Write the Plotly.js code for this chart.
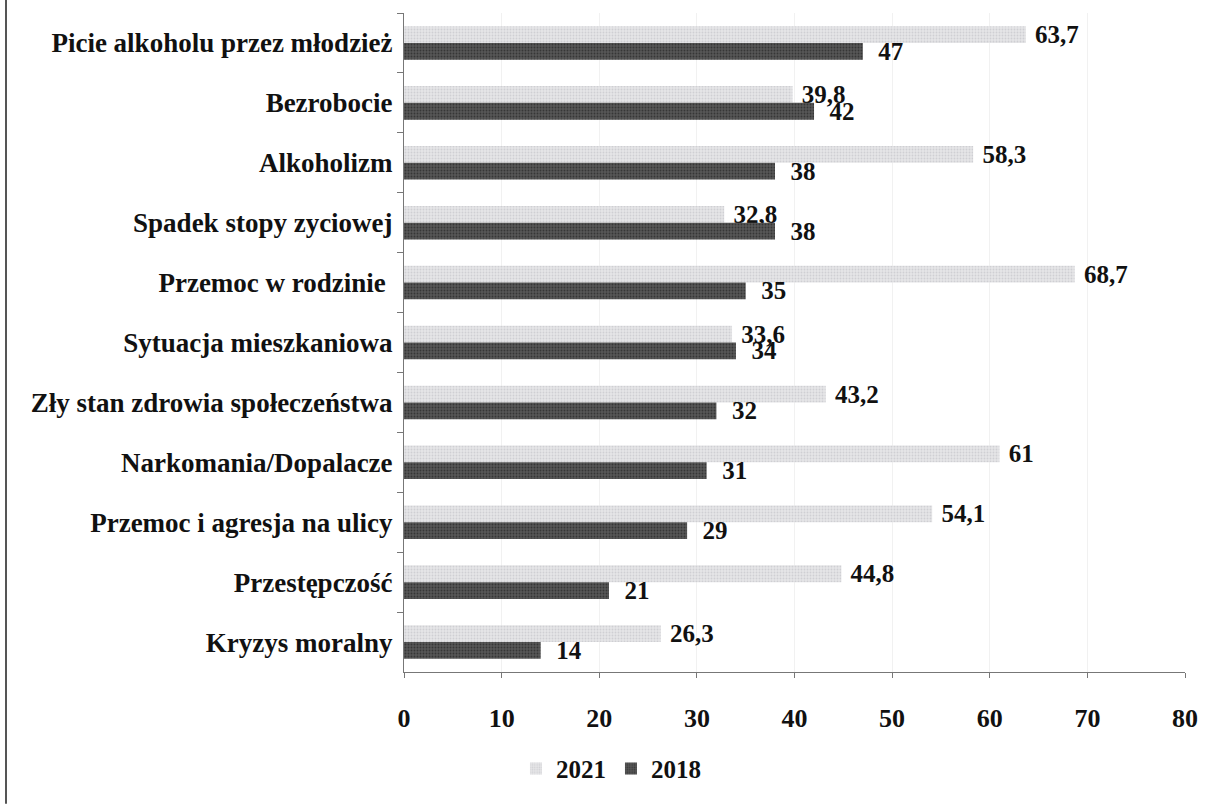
<!DOCTYPE html>
<html>
<head>
<meta charset="utf-8">
<script src="https://cdn.plot.ly/plotly-3.0.1.min.js"></script>
<style>html,body{margin:0;padding:0;background:#fff;}#chart{width:1219px;height:804px;}</style>
</head>
<body>
<div id="chart"></div>
<script>
const categories = [
  "Picie alkoholu przez młodzież",
  "Bezrobocie",
  "Alkoholizm",
  "Spadek stopy zyciowej",
  "Przemoc w rodzinie ",
  "Sytuacja mieszkaniowa",
  "Zły stan zdrowia społeczeństwa",
  "Narkomania/Dopalacze",
  "Przemoc i agresja na ulicy",
  "Przestępczość",
  "Kryzys moralny"
];
const values2021 = [63.7, 39.8, 58.3, 32.8, 68.7, 33.6, 43.2, 61, 54.1, 44.8, 26.3];
const values2018 = [47, 42, 38, 38, 35, 34, 32, 31, 29, 21, 14];
const xTicks = [0, 10, 20, 30, 40, 50, 60, 70, 80];

const serif = "'Liberation Serif', 'Times New Roman', serif";
const fmt = v => String(v).replace(".", ",");

const traces = [
  {
    type: "bar", orientation: "h", name: "2021",
    y: categories, x: values2021,
    marker: { color: "#e4e4e6", pattern: { shape: ".", fgcolor: "#cfcfd3", bgcolor: "#e6e6e8", size: 3, solidity: 0.3 }, line: { width: 0 } },
    text: values2021.map(v => "\u00a0" + fmt(v)),
    textposition: "outside", constraintext: "none", cliponaxis: false,
    textfont: { family: serif, size: 25, color: "#111", weight: "bold" }
  },
  {
    type: "bar", orientation: "h", name: "2018",
    y: categories, x: values2018,
    marker: { color: "#505050", pattern: { shape: ".", fgcolor: "#363636", bgcolor: "#575757", size: 3, solidity: 0.3 }, line: { width: 0 } },
    text: values2018.map(v => "\u00a0\u00a0" + fmt(v)),
    textposition: "outside", constraintext: "none", cliponaxis: false,
    textfont: { family: serif, size: 25, color: "#111", weight: "bold" }
  }
];

const layout = {
  width: 1219, height: 804,
  paper_bgcolor: "#ffffff", plot_bgcolor: "#ffffff",
  margin: { l: 404, r: 34, t: 13, b: 116 },
  barmode: "group", bargap: 0.44, bargroupgap: 0,
  separators: ", ",
  font: { family: serif, size: 25, color: "#111" },
  xaxis: {
    range: [0, 80], tickvals: xTicks, ticktext: xTicks.map(String),
    showgrid: true, gridcolor: "#f1f1f1", gridwidth: 1,
    zeroline: false, showline: true, linecolor: "#777", linewidth: 1,
    ticks: "outside", ticklen: 5, tickcolor: "#777",
    ticklabelstandoff: 18,
    tickfont: { family: serif, size: 26, color: "#111", weight: "bold" }
  },
  yaxis: {
    type: "category", autorange: "reversed",
    showgrid: false, zeroline: false, showline: true, linecolor: "#777", linewidth: 1,
    ticks: "outside", ticklen: 6, tickcolor: "#777", tickson: "boundaries",
    ticklabelstandoff: 5,
    tickfont: { family: serif, size: 27, color: "#111", weight: "bold" }
  },
  legend: {
    orientation: "h", x: 0.265, xanchor: "center", y: -0.112, yanchor: "top",
    font: { family: serif, size: 25, color: "#111", weight: "bold" },
    itemwidth: 30, traceorder: "normal"
  },
  shapes: [
    { type: "line", xref: "paper", yref: "paper", x0: -0.5096, x1: -0.5096, y0: -0.2, y1: 1.03,
      line: { color: "#555", width: 2 } }
  ]
};

Plotly.newPlot("chart", traces, layout, { displayModeBar: false, staticPlot: true });
</script>
</body>
</html>
